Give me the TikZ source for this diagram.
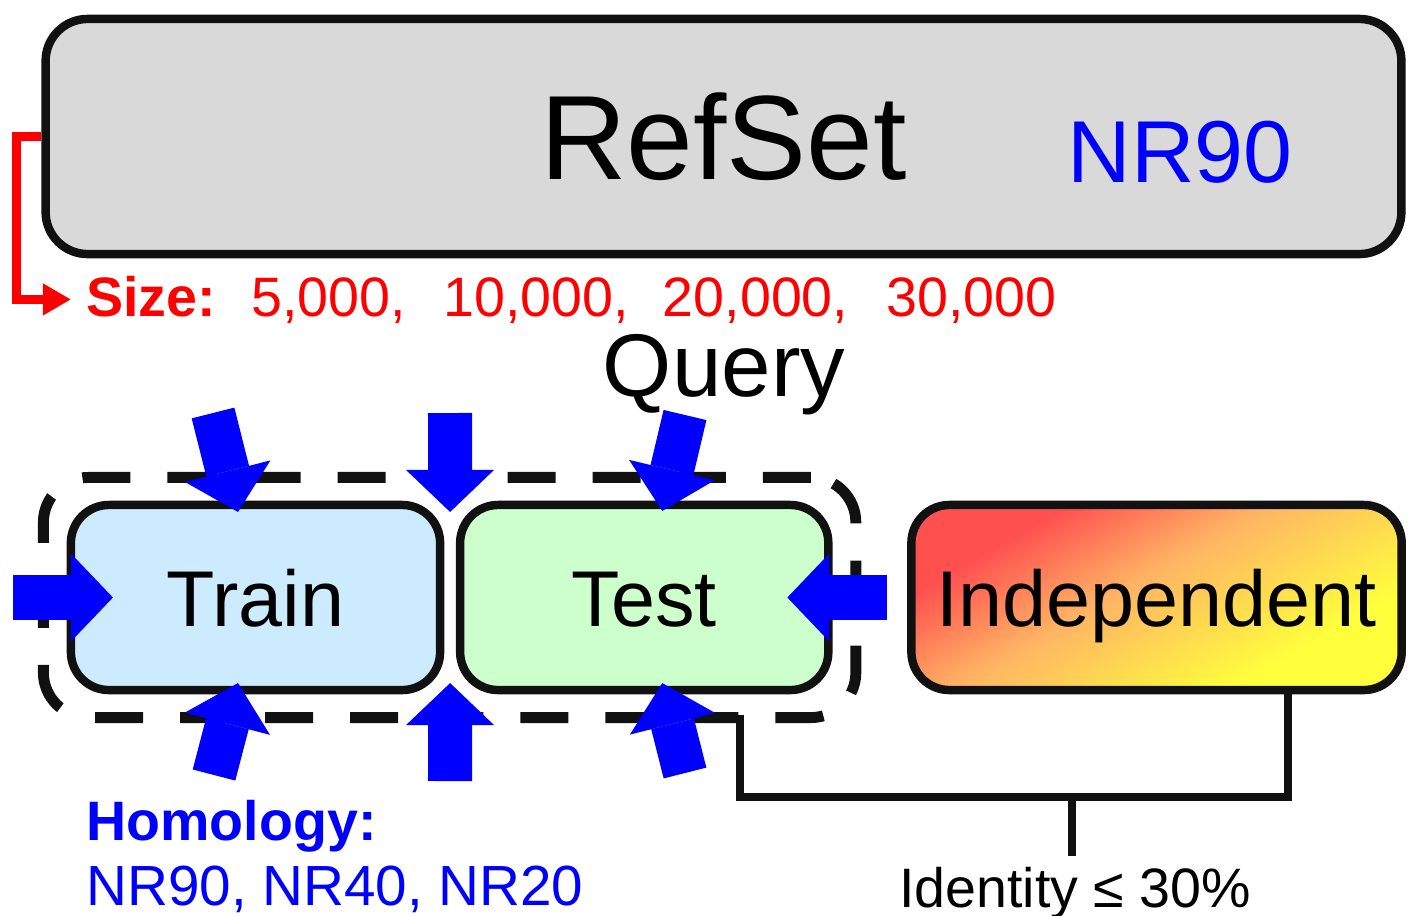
\documentclass[tikz,border=0pt]{standalone}
\usepackage{fontspec}
\setmainfont{Liberation Sans}
\usetikzlibrary{arrows.meta,positioning,calc,fit}
\definecolor{SetGray}{HTML}{D9D9D9}
\definecolor{TrainBlue}{HTML}{CCEBFF}
\definecolor{TestGreen}{HTML}{CCFFCC}
\definecolor{IndRed}{HTML}{FF5050}
\definecolor{IndOrange}{HTML}{FFB464}
\definecolor{IndYellow}{HTML}{FFFF3C}
\definecolor{HomBlue}{HTML}{0000FF}
\definecolor{SizeRed}{HTML}{FF0000}
\definecolor{Edge}{HTML}{111111}
\pgfdeclarehorizontalshading{indgrad}{100bp}{color(0bp)=(IndRed); color(29bp)=(IndRed); color(46bp)=(IndOrange); color(70bp)=(IndYellow); color(100bp)=(IndYellow)}

\tikzset{
  setbox/.style={draw=Edge,line width=2.4pt,rounded corners=0.38cm,inner sep=0pt,outer sep=0pt,
    minimum height=1.85cm,text height=0.57cm,text depth=0pt,font=\fontsize{22.5}{27}\selectfont},
  qarrow/.style={HomBlue,line width=0.44cm,-{Triangle[length=0.42cm,width=0.88cm,line width=0pt]}},
  bracket/.style={draw=Edge,line width=2.3pt},
  smalltext/.style={font=\fontsize{15.8}{19}\selectfont}
}

\begin{document}
\begin{tikzpicture}[x=0.01cm,y=-0.01cm]
  \useasboundingbox (0,0) rectangle (1413,915);

  % reference set and its sizes
  \node[setbox,fill=SetGray,minimum width=13.55cm,minimum height=2.35cm,rounded corners=0.42cm,outer sep=1.2pt,
    text height=0.86cm,font=\fontsize{34.1}{40}\selectfont] (refset) at (723.5,136.5) {RefSet};
  \node[HomBlue,anchor=base,font=\fontsize{25}{30}\selectfont] (nr) at (1180,182) {NR90};
  \node[SizeRed,smalltext,anchor=base west] (size) at (74,316)
    {\textbf{Size:}\hspace{0.35cm}5,000,\hspace{0.38cm}10,000,\hspace{0.34cm}20,000,\hspace{0.38cm}30,000};
  \draw[SizeRed,line width=2.4pt,-{Triangle[length=0.28cm,width=0.3cm]}] (refset.west) -- ++(-25,0) |- ([xshift=-0.03cm]size.west);

  \node[anchor=base,font=\fontsize{25.3}{30}\selectfont] (query) at (724,396) {Query};

  % data splits
  \node[setbox,fill=TrainBlue,minimum width=3.69cm] (train) at (255.5,597.5) {Train};
  \node[setbox,fill=TestGreen,minimum width=3.68cm,right=0.2cm of train] (test) {Test};
  \node[setbox,shade,shading=indgrad,shading angle=-60,minimum width=4.9cm,right=0.83cm of test] (indep) {Independent};
  \node[draw=Edge,line width=3.1pt,dash pattern=on 0.48cm off 0.37cm,rounded corners=0.45cm,
    inner sep=0.275cm,outer sep=0pt,fit=(train)(test)] (group) {};

  % query arrows
  \coordinate (qtn) at (213,413);
  \coordinate (qmn) at (450,413);
  \coordinate (qsn) at (685,415);
  \coordinate (qw) at (13,597.5);
  \coordinate (qe) at (887,597.5);
  \coordinate (qts) at (214,775);
  \coordinate (qms) at (450,781);
  \coordinate (qss) at (685,773);
  \draw[qarrow] (qtn) -- ([xshift=-0.175cm,yshift=-0.07cm]train.north);
  \draw[qarrow] (qmn) -- ([yshift=-0.07cm]$(train.north east)!0.5!(test.north west)$);
  \draw[qarrow] (qsn) -- ([xshift=0.18cm,yshift=-0.06cm]test.north);
  \draw[qarrow] (qw) -- ([xshift=0.42cm]train.west);
  \draw[qarrow] (qe) -- ([xshift=-0.41cm]test.east);
  \draw[qarrow] (qts) -- ([xshift=-0.175cm,yshift=0.07cm]train.south);
  \draw[qarrow] (qms) -- ([yshift=0.07cm]$(train.south east)!0.5!(test.south west)$);
  \draw[qarrow] (qss) -- ([xshift=0.18cm,yshift=0.07cm]test.south);

  % homology levels
  \node[HomBlue,anchor=base west,font=\fontsize{15.8}{19}\selectfont\bfseries] (homol) at (74,840) {Homology:};
  \node[HomBlue,anchor=base west,font=\fontsize{16.1}{19}\selectfont] (levels) at (74,905) {NR90, NR40, NR20};

  % identity bracket
  \draw[bracket] ([xshift=2.905cm,yshift=0.03cm]group.south) -- ++(0,82) -| ([xshift=1.31cm]indep.south);
  \node[smalltext,anchor=base,inner sep=0.1cm] (ident) at (1075,907) {Identity ≤ 30\%};
  \coordinate (idjoin) at (1072,800);
  \draw[bracket] (idjoin) -- (ident.north -| idjoin);
\end{tikzpicture}
\end{document}
